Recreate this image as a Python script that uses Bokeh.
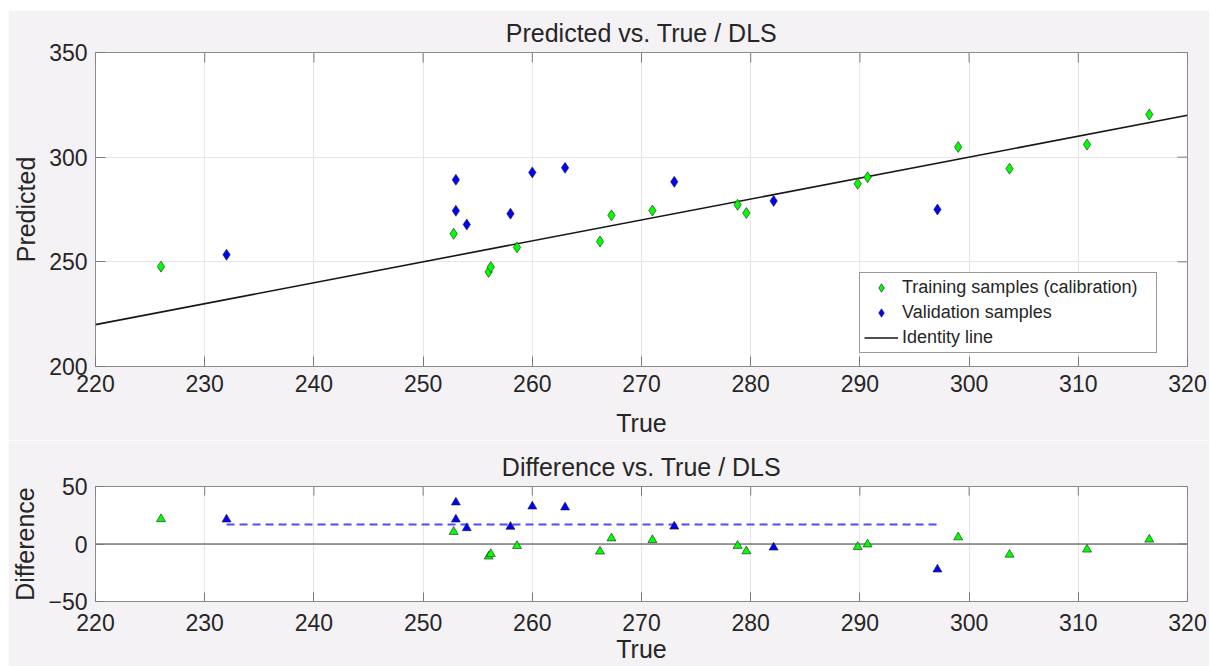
import math
from bokeh.plotting import figure
from bokeh.models import (Legend, LegendItem, FixedTicker, Range1d, Span)
from bokeh.layouts import column
from bokeh.embed import file_html
from bokeh.resources import INLINE

# ---------------- data ----------------
train_true = [226.0, 252.8, 256.0, 256.2, 258.6, 266.2, 267.25, 271.0, 278.8, 279.6,
              289.8, 290.7, 299.0, 303.7, 310.8, 316.5]
train_pred = [247.7, 263.4, 245.2, 247.5, 256.9, 259.7, 272.2, 274.5, 277.25, 273.3,
              287.3, 290.4, 304.9, 294.5, 306.0, 320.4]
val_true = [232.0, 253.0, 253.0, 254.0, 258.0, 260.0, 263.0, 273.0, 282.1, 297.1]
val_pred = [253.4, 289.2, 274.4, 267.8, 273.0, 292.7, 294.9, 288.2, 279.1, 275.0]
val_mean_difference = 17.0

x_limits = [220, 320]
top_y_limits = [200, 350]
bottom_y_limits = [-50, 50]
x_ticks = [220, 230, 240, 250, 260, 270, 280, 290, 300, 310, 320]
top_y_ticks = [200, 250, 300, 350]
bottom_y_ticks = [-50, 0, 50]
zero_level = 0

train_diff = [p - t for p, t in zip(train_pred, train_true)]
val_diff = [p - t for p, t in zip(val_pred, val_true)]

# ---------------- style ----------------
BG = "#f5f2f5"
FRAME = "#8c8c8c"
TICK = "#7a7a7a"
GRID = "#e6e6e6"
TXT = "#262626"
FONT = "Liberation Sans"
GREEN = "#00ff00"
BLUE = "#0000ff"
EDGE = "#1e1e1e"


def style_fig(p, xt, yt, xlim, ylim, xlabel, ylabel, tick_len, x_standoff,
              x_label_standoff, title_standoff):
    p.title.align = "center"
    p.title.text_font = FONT
    p.title.text_font_size = "25px"
    p.title.text_font_style = "normal"
    p.title.text_color = TXT
    p.title.standoff = title_standoff
    for ax in (p.xaxis[0], p.yaxis[0]):
        ax.axis_line_color = None
        ax.major_tick_in = tick_len
        ax.major_tick_out = 0
        ax.major_tick_line_color = TICK
        ax.minor_tick_line_color = None
        ax.major_label_text_font = FONT
        ax.major_label_text_font_size = "23px"
        ax.major_label_text_color = TXT
        ax.axis_label_text_font = FONT
        ax.axis_label_text_font_size = "25px"
        ax.axis_label_text_font_style = "normal"
        ax.axis_label_text_color = TXT
    p.xaxis[0].ticker = FixedTicker(ticks=xt)
    p.yaxis[0].ticker = FixedTicker(ticks=yt)
    p.xaxis[0].axis_label = xlabel
    p.yaxis[0].axis_label = ylabel
    p.xaxis[0].major_label_standoff = x_standoff
    p.xaxis[0].axis_label_standoff = x_label_standoff
    p.yaxis[0].major_label_standoff = 8
    p.yaxis[0].axis_label_standoff = 6
    p.xgrid.ticker = FixedTicker(ticks=xt)
    p.ygrid.ticker = FixedTicker(ticks=yt)
    p.xgrid.grid_line_color = GRID
    p.ygrid.grid_line_color = GRID
    # mirrored inward ticks on the top and right edges (box on); the
    # markers are centred on the frame edge and clipped to the frame
    p.scatter(xt, [ylim[1]] * len(xt), marker="dash", angle=math.pi / 2,
              size=2 * tick_len, line_color=TICK, line_width=1)
    p.scatter([xlim[1]] * len(yt), yt, marker="dash",
              size=2 * tick_len, line_color=TICK, line_width=1)


# ---------------- top plot ----------------
p1 = figure(width=1201, height=430,
            x_range=Range1d(*x_limits), y_range=Range1d(*top_y_limits),
            output_backend="svg", toolbar_location=None,
            min_border_left=84, min_border_right=22,
            min_border_top=41, min_border_bottom=74,
            background_fill_color="white", border_fill_color=BG,
            outline_line_color=FRAME, outline_line_width=1,
            title="Predicted vs. True / DLS", margin=(10, 0, 0, 8))
style_fig(p1, x_ticks, top_y_ticks, x_limits, top_y_limits, "True", "Predicted",
          10, 8, 14, 12)

r_id = p1.line(x_limits, x_limits, line_color="#161616", line_width=1.6)
r_tr = p1.scatter(train_true, train_pred, marker="diamond", size=11,
                  fill_color=GREEN, line_color=EDGE, line_width=0.6)
r_va = p1.scatter(val_true, val_pred, marker="diamond", size=11,
                  fill_color=BLUE, line_color=EDGE, line_width=0.6)

legend = Legend(items=[LegendItem(label="Training samples (calibration)", renderers=[r_tr]),
                       LegendItem(label="Validation samples", renderers=[r_va]),
                       LegendItem(label="Identity line", renderers=[r_id])],
                location=(764, 13), orientation="vertical",
                label_text_font=FONT, label_text_font_size="18px", label_text_color=TXT,
                border_line_color="#333333", border_line_width=1,
                background_fill_color="white", background_fill_alpha=1,
                padding=4, spacing=4, margin=0,
                glyph_width=34, glyph_height=21, label_height=21,
                label_standoff=4, label_width=250)
p1.add_layout(legend, "center")

# ---------------- bottom plot ----------------
p2 = figure(width=1201, height=226,
            x_range=Range1d(*x_limits), y_range=Range1d(*bottom_y_limits),
            output_backend="svg", toolbar_location=None,
            min_border_left=84, min_border_right=22,
            min_border_top=46, min_border_bottom=65,
            background_fill_color="white", border_fill_color=BG,
            outline_line_color=FRAME, outline_line_width=1,
            title="Difference vs. True / DLS", margin=(0, 0, 0, 8))
style_fig(p2, x_ticks, bottom_y_ticks, x_limits, bottom_y_limits, "True", "Difference",
          9, 12, 1, 11)

p2.add_layout(Span(location=zero_level, dimension="width", line_color="#3c3c3c",
                   line_width=1, level="underlay"))
p2.line([min(val_true), max(val_true)], [val_mean_difference, val_mean_difference],
        line_color="#4d4dff", line_width=2, line_dash="8 5")
p2.scatter(train_true, train_diff, marker="triangle", size=9,
           fill_color=GREEN, line_color=EDGE, line_width=0.6)
p2.scatter(val_true, val_diff, marker="triangle", size=9,
           fill_color=BLUE, line_color=EDGE, line_width=0.6)

layout = column(p1, p2, spacing=0)
open("out.html", "w").write(file_html(layout, INLINE))
